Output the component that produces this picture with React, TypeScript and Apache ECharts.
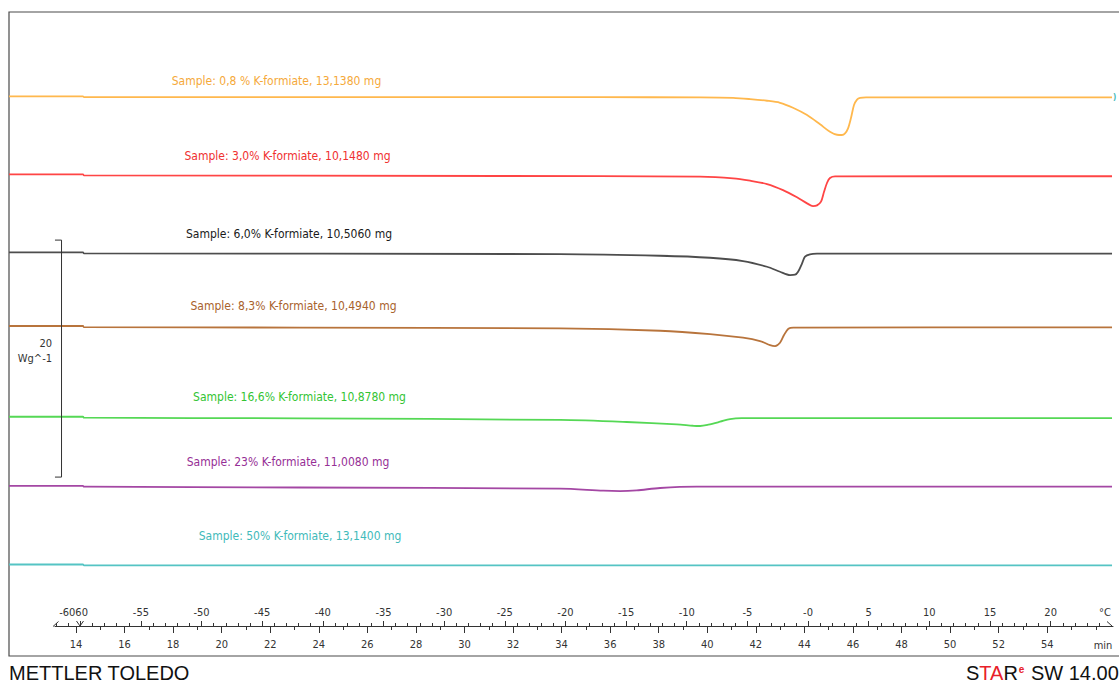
import React, { useEffect, useRef } from "react";
import * as echarts from "echarts";

// ---------- DATA ----------
const sampleLabels = [
  "Sample: 0,8 % K-formiate, 13,1380 mg",
  "Sample: 3,0% K-formiate, 10,1480 mg",
  "Sample: 6,0% K-formiate, 10,5060 mg",
  "Sample: 8,3% K-formiate, 10,4940 mg",
  "Sample: 16,6% K-formiate, 10,8780 mg",
  "Sample: 23% K-formiate, 11,0080 mg",
  "Sample: 50% K-formiate, 13,1400 mg",
];

// [temperature °C, heat flow W/g (with display offset)]
const curve08 = [
  [-65.87, 47.23], [-59.77, 47.23], [-59.69, 47.17], [-17.15, 47.16], [-8.9, 47.14],
  [-6.18, 47.1], [-4.78, 47.0], [-3.38, 46.86], [-2.31, 46.69], [-1.24, 46.27],
  [-0.08, 45.65], [0.99, 44.87], [1.81, 44.24], [2.39, 43.99], [2.8, 43.97],
  [3.05, 44.11], [3.3, 44.53], [3.54, 45.4], [3.79, 46.5], [4.04, 46.96],
  [4.29, 47.11], [4.78, 47.15], [25.06, 47.15],
];
const curve30 = [
  [-65.87, 40.65], [-59.77, 40.65], [-59.69, 40.57], [-25.39, 40.51], [-8.9, 40.45],
  [-6.18, 40.31], [-4.78, 40.11], [-3.38, 39.83], [-2.06, 39.32], [-0.91, 38.71],
  [-0.08, 38.2], [0.41, 37.97], [0.74, 38.03], [1.07, 38.34], [1.32, 39.18],
  [1.57, 39.94], [1.81, 40.34], [2.23, 40.48], [25.06, 40.49],
];
const curve60 = [
  [-65.87, 34.07], [-59.77, 34.07], [-59.69, 33.98], [-20.45, 33.92], [-12.2, 33.78],
  [-8.08, 33.61], [-5.36, 33.33], [-3.38, 32.85], [-2.31, 32.43], [-1.48, 32.15],
  [-1.07, 32.18], [-0.82, 32.43], [-0.49, 33.14], [-0.25, 33.7], [0.16, 33.9],
  [0.74, 33.95], [25.06, 33.95],
];
const curve83 = [
  [-65.87, 27.85], [-59.77, 27.85], [-59.69, 27.76], [-41.88, 27.72], [-20.45, 27.65],
  [-12.2, 27.45], [-8.08, 27.17], [-5.36, 26.86], [-3.96, 26.58], [-3.13, 26.24],
  [-2.72, 26.16], [-2.31, 26.44], [-1.98, 27.09], [-1.62, 27.62], [-1.21, 27.72], [25.06, 27.74],
];
const curve166 = [
  [-65.87, 20.19], [-59.77, 20.19], [-59.69, 20.11], [-41.88, 20.06], [-20.45, 19.92],
  [-14.95, 19.75], [-10.82, 19.55], [-9.46, 19.43], [-8.9, 19.41], [-8.22, 19.52],
  [-7.25, 19.77], [-6.43, 20.0], [-5.47, 20.08], [25.06, 20.08],
];
const curve23 = [
  [-65.87, 14.35], [-59.77, 14.35], [-59.69, 14.29], [-41.88, 14.22], [-20.45, 14.12],
  [-16.88, 13.95], [-15.5, 13.92], [-14.12, 13.98], [-12.2, 14.18], [-9.18, 14.29], [25.06, 14.29],
];
const curve50 = [
  [-65.87, 7.72], [-59.77, 7.72], [-59.69, 7.65], [25.06, 7.65],
];
const curves = [curve08, curve30, curve60, curve83, curve166, curve23, curve50];

// scale bar: 20 W/g
const scaleBarTop = 35.1;
const scaleBarSpan = 20;
const scaleBarLabel = ["20", "Wg^-1"];

// axes
const timeMajorTicks = [14, 16, 18, 20, 22, 24, 26, 28, 30, 32, 34, 36, 38, 40, 42, 44, 46, 48, 50, 52, 54];
const timeMinorTicks = [14, 15, 16, 17, 18, 19, 20, 21, 22, 23, 24, 25, 26, 27, 28, 29, 30, 31, 32, 33, 34, 35,
  36, 37, 38, 39, 40, 41, 42, 43, 44, 45, 46, 47, 48, 49, 50, 51, 52, 53, 54, 55, 56];
const tempLabelValues = [-60.55, -55, -50, -45, -40, -35, -30, -25, -20, -15, -10, -5, 0, 5, 10, 15, 20];
const tempLabelTexts = ["-6060", "-55", "-50", "-45", "-40", "-35", "-30", "-25", "-20", "-15", "-10", "-5", "-0", "5", "10", "15", "20"];
const tempMajorTicks = [-60, -55, -50, -45, -40, -35, -30, -25, -20, -15, -10, -5, 0, 5, 10, 15, 20];
const tempMinorTicks = [-62, -61, -60, -59, -58, -57, -56, -55, -54, -53, -52, -51, -50, -49, -48, -47, -46, -45,
  -44, -43, -42, -41, -40, -39, -38, -37, -36, -35, -34, -33, -32, -31, -30, -29, -28, -27, -26, -25, -24, -23,
  -22, -21, -20, -19, -18, -17, -16, -15, -14, -13, -12, -11, -10, -9, -8, -7, -6, -5, -4, -3, -2, -1, 0, 1, 2,
  3, 4, 5, 6, 7, 8, 9, 10, 11, 12, 13, 14, 15, 16, 17, 18, 19, 20, 21, 22, 23, 24];
const timeRange = [13.135, 56.71];
const tempRange = [-62.08, 25.14];
const plotTempRange = [-65.87, 26.46];
const plotSignalRange = [0, 54.35];

// ---------- STYLE ----------
const lineColors = ["#FFB84D", "#FF4545", "#4D4D4D", "#B8743C", "#55D855", "#A447A4", "#55C4C4"];
const textColors = ["#F5A93A", "#F03030", "#1A1A1A", "#A8622C", "#33C433", "#962F96", "#3FBABA"];
const labelPos = [
  [276.5, 81], [287.5, 156], [289, 234], [293.5, 306], [299.5, 397], [288, 462], [300, 536],
];
const FONT = "'DejaVu Sans Condensed', 'Open Sans', sans-serif";
const FOOT = "'Liberation Sans', Arial, sans-serif";

export default function App() {
  const ref = useRef<HTMLDivElement>(null);
  useEffect(() => {
    if (!ref.current) return;
    const chart = echarts.init(ref.current, null, { renderer: "svg" });

    const series: any[] = curves.map((c, i) => ({
      type: "line",
      name: sampleLabels[i],
      xAxisIndex: 0,
      yAxisIndex: 0,
      data: c,
      showSymbol: false,
      smooth: 0.3,
      lineStyle: { color: lineColors[i], width: 1.8 },
      silent: true,
      z: 3,
    }));
    const barX0 = tempRange[0];
    const barX1 = -61.54;
    series.push({
      type: "line",
      xAxisIndex: 0,
      yAxisIndex: 0,
      data: [
        [barX0, scaleBarTop],
        [barX1, scaleBarTop],
        [barX1, scaleBarTop - scaleBarSpan],
        [barX0, scaleBarTop - scaleBarSpan],
      ],
      showSymbol: false,
      lineStyle: { color: "#333", width: 1 },
      silent: true,
      z: 4,
    });

    const labelGraphics = sampleLabels.map((t, i) => ({
      type: "text",
      x: labelPos[i][0],
      y: labelPos[i][1],
      style: {
        text: t,
        fill: textColors[i],
        font: `12px ${FONT}`,
        align: "center",
        verticalAlign: "middle",
      },
    }));

    const axisLabelStyle = { color: "#333", fontSize: 11, fontFamily: FONT };

    const option: any = {
      animation: false,
      backgroundColor: "#fff",
      grid: [
        {
          left: 9, top: 12, width: 1120, bottom: 26, outerBoundsMode: "none", containLabel: false,
          show: true, borderColor: "#4a4a4a", borderWidth: 1.2, backgroundColor: "transparent",
        },
        { left: 55, width: 1058, top: 626, height: 0, outerBoundsMode: "none", containLabel: false },
      ],
      xAxis: [
        { type: "value", gridIndex: 0, min: plotTempRange[0], max: plotTempRange[1], show: false },
        {
          type: "value", gridIndex: 1, position: "bottom", min: timeRange[0], max: timeRange[1],
          axisLine: { show: true, lineStyle: { color: "#333", width: 1 } },
          axisTick: { show: true, length: 4, customValues: timeMinorTicks, lineStyle: { color: "#333" } },
          axisLabel: { show: false },
          splitLine: { show: false },
        },
        {
          type: "value", gridIndex: 1, position: "bottom", min: timeRange[0], max: timeRange[1],
          axisLine: { show: false },
          axisTick: { show: true, length: 7, customValues: timeMajorTicks, lineStyle: { color: "#333" } },
          axisLabel: { show: true, customValues: timeMajorTicks, margin: 13, showMinLabel: true, showMaxLabel: true, ...axisLabelStyle },
          splitLine: { show: false },
        },
        {
          type: "value", gridIndex: 1, position: "top", min: tempRange[0], max: tempRange[1],
          axisLine: { show: false },
          axisTick: { show: true, length: 3, customValues: tempMinorTicks, lineStyle: { color: "#333" } },
          axisLabel: { show: false },
          splitLine: { show: false },
        },
        {
          type: "value", gridIndex: 1, position: "top", min: tempRange[0], max: tempRange[1],
          axisLine: { show: false },
          axisTick: { show: true, length: 5, customValues: tempMajorTicks, lineStyle: { color: "#333" } },
          axisLabel: {
            show: true, customValues: tempLabelValues, margin: 8, showMinLabel: true, showMaxLabel: true,
            ...axisLabelStyle,
            formatter: (v: number) => {
              const k = tempLabelValues.findIndex((x) => Math.abs(x - v) < 1e-6);
              return k >= 0 ? tempLabelTexts[k] : String(v);
            },
          },
          splitLine: { show: false },
        },
      ],
      yAxis: [
        { type: "value", gridIndex: 0, min: plotSignalRange[0], max: plotSignalRange[1], show: false },
        { type: "value", gridIndex: 1, min: 0, max: 1, show: false },
      ],
      series,
      graphic: [
        ...labelGraphics,
        { type: "text", x: 52, y: 343, style: { text: scaleBarLabel[0], fill: "#333", font: `11px ${FONT}`, align: "right", verticalAlign: "middle" } },
        { type: "text", x: 52, y: 358, style: { text: scaleBarLabel[1], fill: "#333", font: `11px ${FONT}`, align: "right", verticalAlign: "middle" } },
        { type: "text", x: 1105, y: 612, style: { text: "°C", fill: "#333", font: `11px ${FONT}`, align: "center", verticalAlign: "middle" } },
        { type: "text", x: 1103, y: 645, style: { text: "min", fill: "#333", font: `11px ${FONT}`, align: "center", verticalAlign: "middle" } },
        { type: "line", shape: { x1: 53, y1: 626.5, x2: 58.5, y2: 621.5 }, style: { stroke: "#333", lineWidth: 1 } },
        { type: "polyline", shape: { points: [[76.5, 621], [80, 626], [83.5, 621]] }, style: { stroke: "#333", lineWidth: 1, fill: null } },
        { type: "line", shape: { x1: 1107, y1: 621.5, x2: 1112, y2: 626 }, style: { stroke: "#333", lineWidth: 1 } },
        { type: "text", x: 1113, y: 97, style: { text: ")", fill: "#40B8B8", font: `bold 8px ${FONT}`, align: "left", verticalAlign: "middle" } },
        {
          type: "text", x: 9, y: 672.5,
          style: { text: "METTLER TOLEDO", fill: "#111", font: `20px ${FOOT}`, lineHeight: 16, align: "left", verticalAlign: "middle" },
        },
        {
          type: "text", x: 966, y: 672.5,
          style: {
            text: "{b|S}{r|TA}{b|R}{s|e}{b| SW 14.00}",
            align: "left",
            verticalAlign: "middle",
            lineHeight: 16,
            rich: {
              b: { fill: "#111", font: `20px ${FOOT}`, lineHeight: 16 },
              r: { fill: "#E8202A", font: `20px ${FOOT}`, lineHeight: 16 },
              s: { fill: "#E8202A", font: `bold 10px ${FOOT}`, verticalAlign: "top", lineHeight: 10, padding: [0, 1, 0, 1] },
            },
          },
        },
      ],
    };
    chart.setOption(option);
    return () => chart.dispose();
  }, []);

  return (
    <div
      ref={ref}
      style={{ position: "fixed", left: 0, top: 0, width: 1119, height: 682, background: "#fff" }}
    />
  );
}
